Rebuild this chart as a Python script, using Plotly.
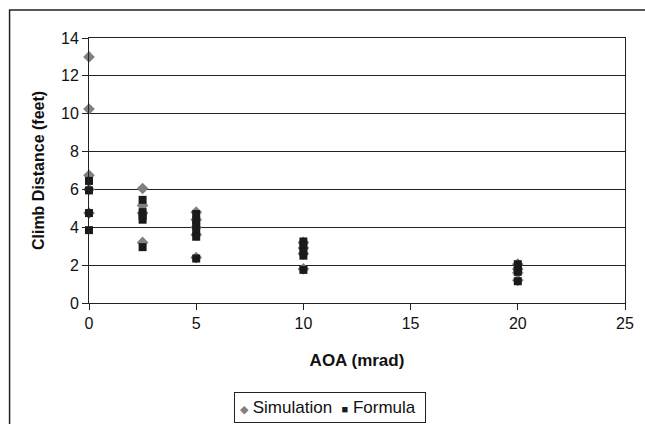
import plotly.graph_objects as go

sim_x = [0, 0, 0, 0, 0, 2.5, 2.5, 2.5, 2.5, 5, 5, 5, 5, 5, 10, 10, 10, 10, 20, 20, 20, 20]
sim_y = [13.0, 10.25, 6.75, 6.0, 4.75, 6.05, 5.15, 4.75, 3.2, 4.8, 4.4, 4.0, 3.6, 2.4,
         3.2, 2.9, 2.6, 1.8, 2.05, 1.8, 1.6, 1.2]
form_x = [0, 0, 0, 0, 2.5, 2.5, 2.5, 2.5, 2.5, 5, 5, 5, 5, 5, 5, 10, 10, 10, 10, 10, 20, 20, 20, 20]
form_y = [6.45, 5.95, 4.75, 3.85, 5.45, 4.8, 4.6, 4.4, 2.95, 4.7, 4.35, 4.1, 3.8, 3.5, 2.35,
          3.25, 3.0, 2.75, 2.5, 1.75, 2.05, 1.85, 1.65, 1.15]
series_names = ["Simulation", "Formula"]

FONT = "Liberation Sans, Arial, sans-serif"
SIM_COLOR = "#808080"
FORM_COLOR = "#1a1a1a"

fig = go.Figure()
fig.add_trace(go.Scatter(x=sim_x, y=sim_y, mode="markers", name=series_names[0],
                         cliponaxis=False,
                         marker=dict(symbol="diamond", size=9, color=SIM_COLOR)))
fig.add_trace(go.Scatter(x=form_x, y=form_y, mode="markers", name=series_names[1],
                         cliponaxis=False,
                         marker=dict(symbol="square", size=8, color=FORM_COLOR)))

L, R, T, B = 88.5, 20, 38, 121
W, H = 645, 424
pw, ph = W - L - R, H - T - B

legend_text = (f'<span style="color:{SIM_COLOR};font-size:11px">◆</span> {series_names[0]}  '
               f'<span style="color:{FORM_COLOR};font-size:11px">■</span> {series_names[1]} ')

fig.update_layout(
    width=W, height=H,
    margin=dict(l=L, r=R, t=T, b=B, pad=0),
    paper_bgcolor="white", plot_bgcolor="white",
    font=dict(family=FONT, size=16, color="#111"),
    showlegend=False,
    xaxis=dict(range=[0, 25], tickvals=[0, 5, 10, 15, 20, 25], showgrid=False,
               zeroline=False, showline=True, linecolor="#222", linewidth=1,
               mirror=True, ticks="outside", ticklen=6, tickcolor="#222",
               automargin=False, tickfont=dict(size=16),
               title=dict(text="<b>AOA (mrad)</b>", font=dict(size=17), standoff=22)),
    yaxis=dict(range=[0, 14], tickvals=list(range(0, 15, 2)), showgrid=True,
               gridcolor="#222", gridwidth=1, zeroline=False, showline=True,
               linecolor="#222", linewidth=1, mirror=True, ticks="outside",
               ticklen=6, tickcolor="#222", automargin=False, tickfont=dict(size=16),
               title=dict(text="<b>Climb Distance (feet)</b>", font=dict(size=16), standoff=12)),
    shapes=[dict(type="rect", xref="paper", yref="paper",
                 x0=(9 - L) / pw, x1=1.3, y0=-0.6, y1=(H - B - 10) / ph,
                 line=dict(color="#222", width=1.5), layer="below")],
    annotations=[dict(xref="paper", yref="paper", x=(329.5 - L) / pw,
                      y=(H - B - 407) / ph, xanchor="center", yanchor="middle",
                      text=legend_text, showarrow=False, font=dict(size=17),
                      bordercolor="#222", borderwidth=1, borderpad=5, bgcolor="white")],
)

fig.write_html("out.html", config={"displayModeBar": False},
               post_script="document.body.style.margin='0';document.body.style.overflow='hidden';")
